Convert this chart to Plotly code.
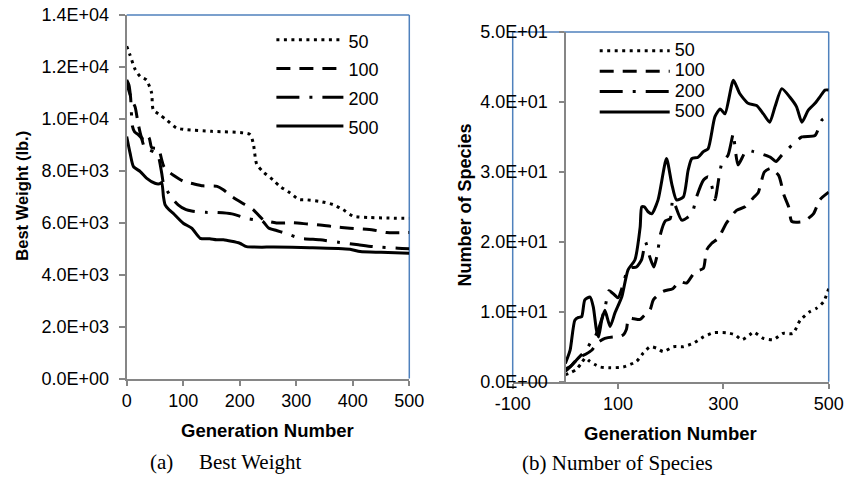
import plotly.graph_objects as go

W, H = 846, 477

# ---------------- data: (a) Best Weight ----------------
series_names = ["50", "100", "200", "500"]

gen_w50 = [0, 6, 15, 24, 35, 44, 47, 59, 71, 88, 106, 150, 218, 224, 230, 242, 259, 271, 289, 304, 320, 342, 365, 383, 401, 430, 460, 500]
w50 = [12800, 12450, 11900, 11630, 11500, 11000, 10350, 10150, 9950, 9650, 9580, 9520, 9400, 9050, 8250, 7950, 7650, 7400, 7150, 6900, 6880, 6820, 6700, 6500, 6250, 6200, 6180, 6170]

gen_w100 = [0, 5, 10, 15, 20, 26, 30, 35, 40, 44, 50, 56, 62, 66, 75, 82, 100, 118, 135, 160, 171, 186, 209, 224, 242, 265, 295, 320, 342, 365, 395, 436, 460, 500]
w100 = [11400, 11000, 10700, 10450, 9850, 9300, 9200, 9380, 9250, 8900, 8870, 8870, 8420, 8150, 7950, 7840, 7600, 7500, 7420, 7400, 7270, 7010, 6700, 6500, 6110, 5990, 6000, 5950, 5910, 5850, 5790, 5720, 5620, 5620]

gen_w200 = [0, 4, 7, 10, 14, 20, 26, 32, 40, 50, 56, 62, 65, 78, 91, 105, 115, 140, 160, 186, 215, 240, 251, 265, 280, 307, 342, 377, 410, 436, 480, 500]
w200 = [11500, 11300, 10800, 9730, 9500, 9400, 9250, 8870, 8800, 8700, 8550, 7900, 7520, 7000, 6690, 6500, 6450, 6400, 6390, 6340, 6150, 6060, 5800, 5700, 5600, 5400, 5340, 5240, 5150, 5080, 5020, 5000]

gen_w500 = [0, 6, 12, 24, 35, 50, 58, 62, 65, 68, 75, 82, 100, 115, 130, 147, 159, 171, 200, 212, 260, 324, 395, 413, 450, 500]
w500 = [9320, 8680, 8160, 7970, 7720, 7520, 7500, 7550, 7010, 6690, 6500, 6370, 5980, 5790, 5400, 5380, 5340, 5340, 5210, 5080, 5060, 5040, 4980, 4890, 4860, 4825]

# ---------------- data: (b) Number of Species ----------------
gen_s50 = [0, 10, 20, 30, 38, 45, 55, 66, 85, 110, 135, 148, 161, 173, 186, 205, 224, 243, 262, 281, 306, 322, 335, 350, 357, 376, 395, 413, 432, 446, 464, 477, 490, 500]
s50 = [1.0, 1.3, 1.7, 2.6, 3.4, 3.0, 2.5, 2.1, 2.0, 2.1, 2.9, 4.1, 5.0, 4.8, 4.3, 5.0, 5.0, 5.5, 6.4, 7.0, 7.0, 6.7, 6.0, 6.7, 7.1, 6.2, 6.0, 6.9, 6.9, 8.8, 10.0, 10.5, 11.4, 13.3]

gen_s100 = [0, 10, 20, 30, 40, 50, 60, 75, 90, 100, 110, 116, 120, 130, 142, 150, 161, 167, 185, 204, 217, 230, 246, 262, 268, 278, 290, 306, 325, 341, 357, 366, 378, 390, 405, 415, 424, 430, 452, 471, 483, 500]
s100 = [1.5, 2.2, 3.0, 3.6, 4.0, 4.5, 5.5, 6.2, 6.4, 6.4, 6.7, 7.5, 9.1, 9.0, 8.9, 9.5, 10.3, 11.7, 12.9, 13.3, 14.3, 14.1, 15.7, 16.2, 18.8, 19.8, 20.5, 22.7, 24.5, 25.0, 26.3, 27.0, 30.0, 30.5, 29.5, 26.7, 25.0, 22.9, 22.9, 24.0, 26.0, 27.1]

gen_s200 = [0, 10, 20, 30, 40, 47, 55, 65, 75, 83, 92, 100, 108, 116, 125, 135, 145, 152, 160, 168, 174, 181, 190, 199, 204, 221, 240, 249, 262, 271, 278, 284, 297, 309, 319, 322, 328, 344, 357, 375, 389, 400, 411, 430, 449, 474, 487, 500]
s200 = [1.8, 2.2, 3.0, 3.8, 4.5, 5.5, 6.2, 8.0, 10.5, 13.0, 12.5, 12.0, 13.5, 15.5, 16.3, 16.4, 17.5, 20.0, 17.9, 16.4, 18.0, 21.2, 23.0, 23.3, 26.0, 23.1, 24.0, 26.4, 28.8, 29.3, 28.0, 26.0, 31.2, 32.4, 35.5, 33.6, 31.0, 33.1, 32.9, 32.5, 32.1, 31.5, 32.4, 33.8, 35.0, 35.2, 37.4, 38.0]

gen_s500 = [0, 9, 18, 25, 31, 37, 47, 53, 59, 63, 69, 75, 85, 94, 107, 119, 132, 142, 145, 150, 157, 164, 176, 192, 202, 211, 224, 233, 240, 252, 262, 271, 284, 294, 303, 319, 331, 347, 363, 376, 388, 398, 411, 426, 439, 449, 461, 474, 483, 493, 500]
s500 = [2.6, 4.5, 8.8, 9.2, 9.3, 11.7, 12.1, 10.7, 7.4, 6.4, 8.8, 10.2, 7.9, 9.8, 12.1, 16.0, 17.4, 22.1, 25.0, 25.0, 24.3, 24.0, 26.0, 31.9, 28.3, 26.0, 26.4, 30.2, 31.9, 32.1, 32.9, 33.3, 37.9, 39.0, 38.3, 43.1, 41.2, 39.8, 39.5, 38.3, 37.1, 39.3, 41.9, 40.7, 39.3, 37.1, 38.8, 39.8, 40.7, 41.7, 41.7]

# ---------------- tick labels ----------------
xticks_a = [0, 100, 200, 300, 400, 500]
xlabels_a = ["0", "100", "200", "300", "400", "500"]
yticks_a = [0, 2000, 4000, 6000, 8000, 10000, 12000, 14000]
ylabels_a = ["0.0E+00", "2.0E+03", "4.0E+03", "6.0E+03", "8.0E+03", "1.0E+04", "1.2E+04", "1.4E+04"]
xticks_b = [-100, 100, 300, 500]
xlabels_b = ["-100", "100", "300", "500"]
yticks_b = [0, 10, 20, 30, 40, 50]
ylabels_b = ["0.0E+00", "1.0E+01", "2.0E+01", "3.0E+01", "4.0E+01", "5.0E+01"]

# ---------------- styling ----------------
SANS = "Liberation Sans, Arial, sans-serif"
SERIF = "Liberation Serif, Times New Roman, serif"
GRAY = "#868686"
BLUE = "#4F81BD"
dashes = ["3px,4.5px", "14px,9px", "23px,10px,3px,10px", "solid"]


def px_x(v):
    return v / W


def px_y(v):
    return 1 - v / H


fig = go.Figure()

left_data = [(gen_w50, w50), (gen_w100, w100), (gen_w200, w200), (gen_w500, w500)]
right_data = [(gen_s50, s50), (gen_s100, s100), (gen_s200, s200), (gen_s500, s500)]

for name, (gx, gy), dash in zip(series_names, left_data, dashes):
    fig.add_trace(go.Scatter(
        x=gx, y=gy, mode="lines", name='<span style="font-size:18px">%s</span>' % name,
        line=dict(color="black", width=3, dash=dash, shape="spline", smoothing=0.6),
        xaxis="x", yaxis="y", legend="legend", hoverinfo="skip"))

for name, (gx, gy), dash in zip(series_names, right_data, dashes):
    fig.add_trace(go.Scatter(
        x=gx, y=gy, mode="lines", name='<span style="font-size:18px">%s</span>' % name,
        line=dict(color="black", width=3, dash=dash, shape="spline", smoothing=0.6),
        xaxis="x2", yaxis="y2", legend="legend2", hoverinfo="skip"))

tickfont = dict(family=SANS, size=18, color="black")

fig.update_layout(
    width=W, height=H,
    margin=dict(l=0, r=0, t=0, b=0, autoexpand=False),
    paper_bgcolor="white", plot_bgcolor="white",
    showlegend=True,
    xaxis=dict(domain=[px_x(126.7), px_x(409.3)], range=[0, 500], anchor="y",
               tickmode="array", tickvals=xticks_a, ticktext=xlabels_a,
               ticks="outside", ticklen=5,
               tickwidth=1.5, tickcolor=GRAY, showline=True, linecolor=GRAY,
               linewidth=2, showgrid=False, zeroline=False, tickfont=tickfont),
    yaxis=dict(domain=[px_y(378.5), px_y(15)], range=[0, 14000], anchor="x",
               tickmode="array", tickvals=yticks_a, ticktext=ylabels_a,
               ticks="outside", ticklen=6, tickwidth=1.5, tickcolor=GRAY,
               showline=True, linecolor=GRAY, linewidth=2, showgrid=False,
               zeroline=False, tickfont=tickfont, ticklabelstandoff=6),
    xaxis2=dict(domain=[px_x(512.7), px_x(828.7)], range=[-100, 500], anchor="y2",
                tickmode="array", tickvals=xticks_b, ticktext=xlabels_b,
                ticks="outside", ticklen=5,
                tickwidth=1.5, tickcolor=GRAY, showline=True, linecolor=GRAY,
                linewidth=2, showgrid=False, zeroline=False, tickfont=tickfont),
    yaxis2=dict(domain=[px_y(381.7), px_y(32)], range=[0, 50], anchor="free",
                position=px_x(565.4), tickmode="array", tickvals=yticks_b,
                ticktext=ylabels_b, ticks="outside", ticklen=5, tickwidth=1.5,
                tickcolor=GRAY, showline=True, linecolor=GRAY, linewidth=2,
                showgrid=False, zeroline=False, tickfont=tickfont,
                ticklabelstandoff=8),
    legend=dict(x=px_x(271.4), y=px_y(20.5), xanchor="left", yanchor="top",
                bgcolor="rgba(0,0,0,0)", borderwidth=0, itemwidth=67,
                font=dict(family=SANS, size=19.8, color="black")),
    legend2=dict(x=px_x(594.7), y=px_y(35.5), xanchor="left", yanchor="top",
                 bgcolor="rgba(0,0,0,0)", borderwidth=0, itemwidth=70,
                 font=dict(family=SANS, size=13.4, color="black")),
)

# plot-area borders (blue)
fig.add_shape(type="line", xref="x domain", yref="y domain", x0=0, x1=1, y0=1, y1=1,
              line=dict(color=BLUE, width=1.5), layer="below")
fig.add_shape(type="line", xref="x domain", yref="y domain", x0=1, x1=1, y0=0, y1=1,
              line=dict(color=BLUE, width=1.5), layer="below")
fig.add_shape(type="line", xref="x2 domain", yref="y2 domain", x0=0, x1=1, y0=1, y1=1,
              line=dict(color=BLUE, width=1.5), layer="below")
fig.add_shape(type="line", xref="x2 domain", yref="y2 domain", x0=1, x1=1, y0=0, y1=1,
              line=dict(color=BLUE, width=1.5), layer="below")
fig.add_shape(type="line", xref="x2 domain", yref="y2 domain", x0=0, x1=0, y0=0, y1=1,
              line=dict(color=BLUE, width=1.5), layer="below")

bold = dict(family=SANS, size=18.5, color="black", weight="bold")
annos = [
    dict(text="Generation Number", x=px_x(267.5), y=px_y(430.7), font=bold),
    dict(text="Generation Number", x=px_x(670.8), y=px_y(433.3), font=bold),
    dict(text="Best Weight (lb.)", x=px_x(21.7), y=px_y(196), textangle=-90,
         font=dict(family=SANS, size=16.5, color="black", weight="bold")),
    dict(text="Number of Species", x=px_x(464), y=px_y(205.5), textangle=-90,
         font=dict(family=SANS, size=18, color="black", weight="bold")),
]
for a in annos:
    fig.add_annotation(xref="paper", yref="paper", xanchor="center", yanchor="middle",
                       showarrow=False, **a)

cap = dict(family=SERIF, size=21, color="black")
for text, x, y in [("(a)", 148.3, 461.7), ("Best Weight", 196.7, 461.7),
                   ("(b) Number of Species", 520, 462.7)]:
    fig.add_annotation(xref="paper", yref="paper", x=px_x(x), y=px_y(y),
                       xanchor="left", yanchor="middle", text=text, showarrow=False,
                       font=cap)

fig.write_html("out.html")
